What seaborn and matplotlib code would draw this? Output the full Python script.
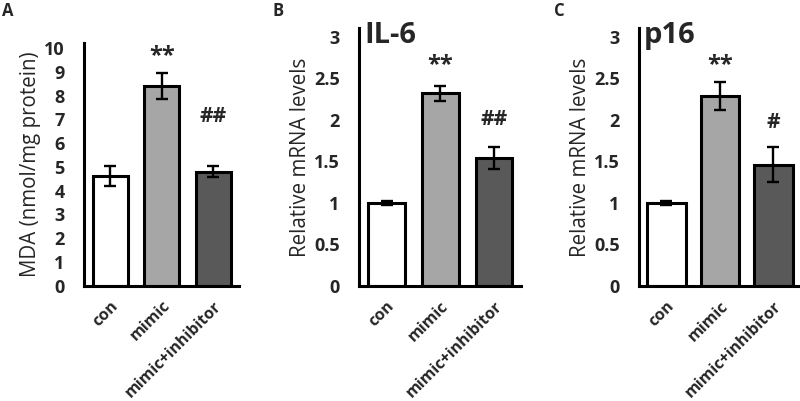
import matplotlib
matplotlib.use("Agg")
import matplotlib.pyplot as plt
import seaborn as sns
import pandas as pd

groups = ["con", "mimic", "mimic+inhibitor"]
bar_colors = ["#ffffff", "#a6a6a6", "#595959"]

mda_mean = [4.6, 8.42, 4.8]
mda_err = [0.42, 0.55, 0.22]
mda_marks = ["", "**", "##"]
mda_mark_y = [None, 9.65, 7.1]

il6_mean = [1.0, 2.32, 1.54]
il6_err = [0.02, 0.09, 0.13]
il6_marks = ["", "**", "##"]
il6_mark_y = [None, 2.66, 2.0]

p16_mean = [1.0, 2.29, 1.46]
p16_err = [0.02, 0.17, 0.21]
p16_marks = ["", "**", "#"]
p16_mark_y = [None, 2.66, 1.97]

sns.set_style("white")
plt.rcParams["font.family"] = ["Open Sans", "DejaVu Sans"]

fig = plt.figure(figsize=(8, 4.01), dpi=100)

panels = [
    ([0.105, 0.288, 0.194, 0.604], mda_mean, mda_err, mda_marks, mda_mark_y,
     (0, 10.2), list(range(0, 11)), "MDA (nmol/mg protein)", None, "A", 0.003, 0.68),
    ([0.449, 0.287, 0.202, 0.642], il6_mean, il6_err, il6_marks, il6_mark_y,
     (0, 3.1), [0, 0.5, 1, 1.5, 2, 2.5, 3], "Relative mRNA levels", "IL-6", "B", 0.341, 0.68),
    ([0.799, 0.287, 0.201, 0.642], p16_mean, p16_err, p16_marks, p16_mark_y,
     (0, 3.1), [0, 0.5, 1, 1.5, 2, 2.5, 3], "Relative mRNA levels", "p16", "C", 0.693, 0.72),
]

for rect, vals, errs, marks, mark_y, ylim, yticks, ylabel, title, letter, lx, w in panels:
    ax = fig.add_axes(rect)
    df = pd.DataFrame({"group": groups, "value": vals})
    sns.barplot(data=df, x="group", y="value", hue="group", order=groups,
                palette=bar_colors, edgecolor="black", linewidth=2.2,
                width=w, errorbar=None, legend=False, ax=ax)
    ax.errorbar(range(len(groups)), vals, yerr=errs, fmt="none",
                ecolor="black", elinewidth=1.7, capsize=4, capthick=1.7)
    for i, m in enumerate(marks):
        if m:
            ax.text(i, mark_y[i], m, ha="center", va="center",
                    fontsize=17 if m.startswith("*") else 15, fontweight="bold")
    ax.set_ylim(*ylim)
    ax.set_xlim(-0.51, 2.5)
    ax.set_yticks(yticks)
    ax.set_yticklabels([f"{t:g}" for t in yticks], fontsize=13, fontweight="bold")
    ax.set_xticks(range(len(groups)))
    ax.set_xticklabels(groups, rotation=45, ha="right", rotation_mode="anchor",
                       fontsize=11.5, fontweight="bold")
    ax.tick_params(axis="both", length=0)
    ax.tick_params(axis="y", pad=14)
    ax.tick_params(axis="x", pad=9)
    ax.set_xlabel("")
    ax.set_ylabel(ylabel, fontsize=14.8, labelpad=2, fontweight="medium")
    for s in ["top", "right"]:
        ax.spines[s].set_visible(False)
    for s in ["left", "bottom"]:
        ax.spines[s].set_linewidth(2.2)
        ax.spines[s].set_color("black")
    if title:
        ax.text(-0.42, 3.02, title, ha="left", va="center",
                fontsize=21, fontweight="bold")
    fig.text(lx, 0.972, letter, ha="left", va="center",
             fontsize=12, fontweight="bold")

fig.savefig("out.png", dpi=100)
